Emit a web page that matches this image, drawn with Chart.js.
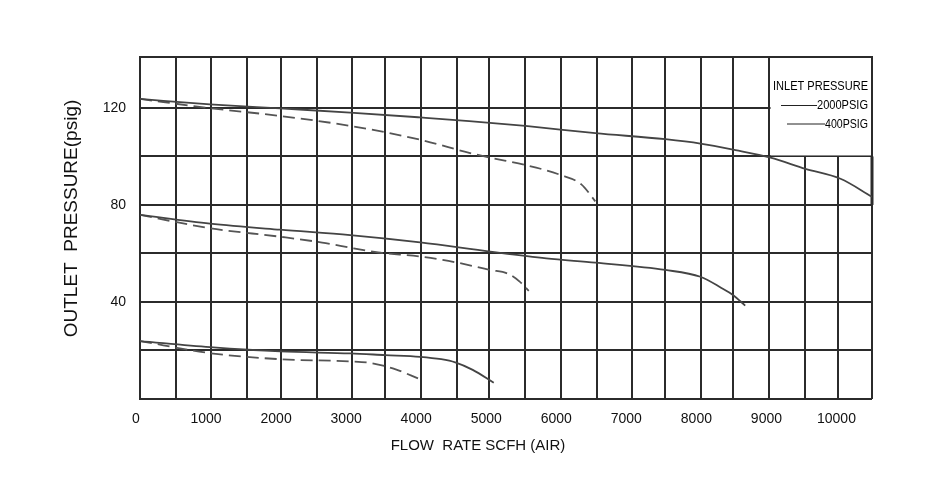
<!DOCTYPE html>
<html>
<head>
<meta charset="utf-8">
<title>Outlet pressure vs flow rate</title>
<script src="https://cdn.jsdelivr.net/npm/chart.js@4.4.1/dist/chart.umd.min.js"></script>
<style>
  html, body { margin: 0; padding: 0; background: #fff; }
  #chart { display: block; }
</style>
</head>
<body>
<canvas id="chart" width="941" height="486"></canvas>
<script>
// values
const xTickLabels = [0, 1000, 2000, 3000, 4000, 5000, 6000, 7000, 8000, 9000, 10000];
const yTickLabels = [120, 80, 40];
// the printed grid is not quite even, so its lines are listed as drawn
const xGridValues = [0, 510, 1020, 1530, 2010, 2520, 3020, 3500, 4010, 4520, 4980,
                     5500, 6010, 6520, 7030, 7500, 8010, 8470, 8980, 9490, 9960, 10450];
const yGridValues = [0, 20, 40, 60, 80, 100, 120, 141];

// set ~120 psig
const flow120Hi = [0, 1000, 2000, 3000, 4000, 4700, 5500, 6500, 7500, 8000, 8500, 9000, 9500, 10000, 10450];
const psig120Hi = [123.7, 121.5, 119.8, 118.1, 116.1, 114.6, 112.6, 109.6, 107.1, 105.3, 102.6, 99.5, 94.9, 90.8, 83.4];
const flow120Lo = [0, 1000, 2000, 3000, 4000, 4700, 5000, 5500, 6000, 6300, 6500];
const psig120Lo = [123.7, 119.9, 116.7, 112.6, 106.9, 101.5, 99.5, 96.5, 92.4, 88.5, 81.5];

// set ~75 psig
const flow75Hi = [0, 1000, 2000, 3000, 4000, 5000, 5800, 6500, 7500, 8000, 8300, 8470, 8640];
const psig75Hi = [75.9, 72.3, 69.8, 67.6, 64.6, 60.8, 58.0, 56.2, 53.2, 50.4, 45.8, 42.8, 38.5];
const flow75Lo = [0, 1000, 2000, 2600, 3050, 3400, 4000, 4500, 5000, 5250, 5420, 5550];
const psig75Lo = [75.9, 70.4, 66.9, 64.5, 62.1, 60.4, 58.7, 56.4, 53.2, 51.7, 48.4, 44.6];

// set ~24 psig
const flow24Hi = [0, 1000, 2000, 3000, 3500, 4000, 4300, 4500, 4750, 5050];
const psig24Hi = [23.9, 21.4, 19.6, 18.8, 18.1, 17.4, 16.4, 15.1, 12.0, 6.7];
const flow24Lo = [0, 1000, 2000, 3000, 3300, 3650, 4000];
const psig24Lo = [23.9, 18.9, 16.4, 15.5, 14.8, 12.2, 8.1];

const FONT = '"Liberation Sans", Arial, sans-serif';
const INK = '#111';
const GRID = '#2b2b2b';

function curve(label, flow, psig, dashed) {
    return {
        label: label,
        data: flow.map((x, i) => ({ x: x, y: psig[i] })),
        borderColor: dashed ? '#555' : '#444',
        borderWidth: 1.8,
        borderDash: dashed ? [12, 6] : [],
        pointRadius: 0,
        cubicInterpolationMode: 'monotone',
        fill: false
    };
}

// legend box, axis titles and the odd heavy border bit of the original sheet
const sheetDecor = {
    id: 'sheetDecor',
    beforeDatasetsDraw(chart) {
        const { ctx, chartArea } = chart;
        const xs = chart.scales.xg;
        const ys = chart.scales.y;
        const left = xs.getPixelForValue(xGridValues[18]);
        const bottom = ys.getPixelForValue(100);
        ctx.save();
        ctx.fillStyle = '#fff';
        ctx.fillRect(left + 1.5, chartArea.top + 1, chartArea.right - left - 2.5, bottom - chartArea.top - 2);
        ctx.strokeStyle = GRID;
        ctx.lineWidth = 2;
        ctx.beginPath();
        ctx.moveTo(left, chartArea.top);
        ctx.lineTo(chartArea.right + 1, chartArea.top);
        ctx.stroke();
        ctx.lineWidth = 3;
        ctx.beginPath();
        ctx.moveTo(chartArea.right, bottom);
        ctx.lineTo(chartArea.right, ys.getPixelForValue(80));
        ctx.stroke();
        ctx.restore();
    },
    afterDraw(chart) {
        const ctx = chart.ctx;
        ctx.save();
        ctx.fillStyle = INK;
        ctx.textAlign = 'center';
        ctx.textBaseline = 'middle';

        ctx.font = '15px ' + FONT;
        ctx.fillText('FLOW  RATE SCFH (AIR)', 478, 446);

        ctx.save();
        ctx.translate(72, 218.5);
        ctx.rotate(-Math.PI / 2);
        ctx.font = '19px ' + FONT;
        ctx.fillText('OUTLET  PRESSURE(psig)', 0, 0);
        ctx.restore();

        ctx.textAlign = 'right';
        ctx.fillStyle = '#000';
        ctx.font = '13px ' + FONT;
        ctx.fillText('INLET PRESSURE', 868, 86, 95);
        ctx.fillText('2000PSIG', 868, 105.5, 51);
        ctx.fillText('400PSIG', 868, 124, 43);
        ctx.strokeStyle = '#222';
        ctx.lineWidth = 1;
        ctx.beginPath();
        ctx.moveTo(781, 105.5);
        ctx.lineTo(817, 105.5);
        ctx.moveTo(787, 124);
        ctx.lineTo(825, 124);
        ctx.stroke();
        ctx.restore();
    }
};

new Chart(document.getElementById('chart'), {
    type: 'line',
    data: {
        datasets: [
            curve('2000PSIG', flow120Hi, psig120Hi, false),
            curve('400PSIG', flow120Lo, psig120Lo, true),
            curve('2000PSIG', flow75Hi, psig75Hi, false),
            curve('400PSIG', flow75Lo, psig75Lo, true),
            curve('2000PSIG', flow24Hi, psig24Hi, false),
            curve('400PSIG', flow24Lo, psig24Lo, true)
        ]
    },
    options: {
        responsive: false,
        animation: false,
        layout: { padding: { top: 57, right: 69, left: 0, bottom: 0 } },
        plugins: {
            legend: { display: false },
            tooltip: { enabled: false }
        },
        scales: {
            x: {
                type: 'linear',
                position: 'bottom',
                min: 0,
                max: 10450,
                afterBuildTicks: (scale) => { scale.ticks = xTickLabels.map(v => ({ value: v })); },
                afterFit: (scale) => { scale.height = 87; },
                grid: { display: false },
                border: { display: false },
                ticks: {
                    color: INK,
                    font: { family: FONT, size: 14 },
                    padding: 4,
                    labelOffset: -4,
                    autoSkip: false,
                    maxRotation: 0,
                    callback: (v) => String(v)
                }
            },
            xg: {
                type: 'linear',
                position: 'bottom',
                min: 0,
                max: 10450,
                afterBuildTicks: (scale) => { scale.ticks = xGridValues.map(v => ({ value: v })); },
                afterFit: (scale) => { scale.height = 0; },
                grid: { color: GRID, lineWidth: 2, drawTicks: false },
                border: { display: false },
                ticks: { display: false }
            },
            y: {
                type: 'linear',
                min: 0,
                max: 141,
                afterBuildTicks: (scale) => { scale.ticks = yGridValues.map(v => ({ value: v })); },
                afterFit: (scale) => { scale.width = 140; },
                grid: { color: GRID, lineWidth: 2, drawTicks: false },
                border: { display: true, color: GRID, width: 2 },
                ticks: {
                    color: INK,
                    font: { family: FONT, size: 14 },
                    padding: 14,
                    callback: (v) => yTickLabels.includes(v) ? String(v) : ''
                }
            }
        }
    },
    plugins: [sheetDecor]
});
</script>
</body>
</html>
